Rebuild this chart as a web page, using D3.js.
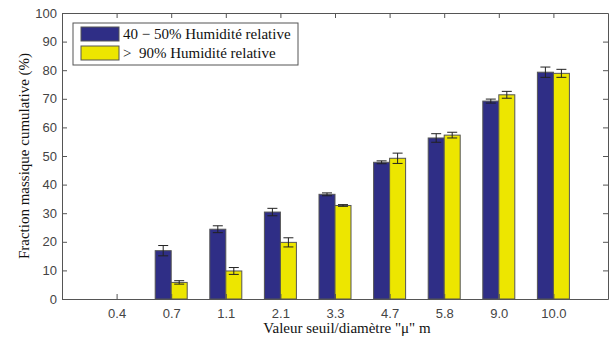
<!DOCTYPE html>
<html>
<head>
<meta charset="utf-8">
<script src="https://cdn.jsdelivr.net/npm/d3@7"></script>
<style>
  body { margin: 0; background: #fff; }
  .serif { font-family: "Liberation Serif", "Times New Roman", Times, serif; }
  .sans { font-family: "Liberation Sans", Arial, Helvetica, sans-serif; }
</style>
</head>
<body>
<div id="chart"></div>
<script>
const width = 610;
const height = 339;

const categories = ["0.4", "0.7", "1.1", "2.1", "3.3", "4.7", "5.8", "9.0", "10.0"];
const seriesNames = ["40 \u2212 50% Humidit\u00e9 relative", ">\u00a0 90% Humidit\u00e9 relative"];
const lowHumidity = [0, 16.9, 24.4, 30.4, 36.6, 47.8, 56.3, 69.2, 79.3];
const lowHumidityErr = [0, 1.8, 1.2, 1.3, 0.5, 0.5, 1.5, 0.7, 1.8];
const highHumidity = [0, 5.8, 9.8, 19.8, 32.7, 49.2, 57.3, 71.4, 78.9];
const highHumidityErr = [0, 0.6, 1.2, 1.6, 0.3, 1.8, 1.0, 1.2, 1.4];
const yTicks = d3.range(0, 101, 10);

const colors = ["#2f2e86", "#ede600"];
const margin = { top: 13, right: 2, bottom: 40, left: 62 };

const svg = d3
  .select("#chart")
  .append("svg")
  .attr("width", width)
  .attr("height", height);

const x = d3
  .scaleLinear()
  .domain([0, categories.length + 1])
  .range([margin.left, width - margin.right]);

const y = d3
  .scaleLinear()
  .domain([0, 100])
  .range([height - margin.bottom, margin.top]);

const barW = 16;
const series = [
  { values: lowHumidity, errs: lowHumidityErr, offset: -1 },
  { values: highHumidity, errs: highHumidityErr, offset: 0 },
];

// bars + error bars
series.forEach((s, si) => {
  const rows = categories
    .map((c, i) => ({ i, v: s.values[i], e: s.errs[i] }))
    .filter((d) => d.v > 0);

  svg
    .append("g")
    .selectAll("rect")
    .data(rows)
    .join("rect")
    .attr("x", (d) => x(d.i + 1) + s.offset * barW)
    .attr("y", (d) => y(d.v))
    .attr("width", barW)
    .attr("height", (d) => y(0) - y(d.v))
    .attr("fill", colors[si])
    .attr("stroke", "#555")
    .attr("stroke-width", 1);

  const cx = (d) => x(d.i + 1) + s.offset * barW + barW / 2;
  const err = svg
    .append("g")
    .attr("stroke", "#222")
    .attr("stroke-width", 1)
    .selectAll("g")
    .data(rows)
    .join("g");
  err
    .append("line")
    .attr("x1", cx)
    .attr("x2", cx)
    .attr("y1", (d) => y(d.v + d.e))
    .attr("y2", (d) => y(d.v - d.e));
  [1, -1].forEach((sign) => {
    err
      .append("line")
      .attr("x1", (d) => cx(d) - 5)
      .attr("x2", (d) => cx(d) + 5)
      .attr("y1", (d) => y(d.v + sign * d.e))
      .attr("y2", (d) => y(d.v + sign * d.e));
  });
});

// axes (inward ticks, closed box)
const xTickVals = categories.map((c, i) => i + 1);
const axisColor = "#555";

const xAxis = svg
  .append("g")
  .attr("transform", `translate(0,${y(0)})`)
  .call(
    d3.axisBottom(x)
      .tickValues(xTickVals)
      .tickFormat((d) => categories[d - 1])
      .tickSizeInner(-5)
      .tickSizeOuter(0)
      .tickPadding(10)
  );

const xTop = svg
  .append("g")
  .attr("transform", `translate(0,${margin.top})`)
  .call(d3.axisTop(x).tickValues(xTickVals).tickFormat("").tickSizeInner(-5).tickSizeOuter(0));

const yAxis = svg
  .append("g")
  .attr("transform", `translate(${margin.left},0)`)
  .call(d3.axisLeft(y).tickValues(yTicks).tickSizeInner(-5).tickSizeOuter(0).tickPadding(5));

const yRight = svg
  .append("g")
  .attr("transform", `translate(${width - margin.right},0)`)
  .call(d3.axisRight(y).tickValues(yTicks).tickFormat("").tickSizeInner(-5).tickSizeOuter(0));

[xAxis, xTop, yAxis, yRight].forEach((g) => {
  g.attr("font-family", null).attr("font-size", null);
  g.selectAll("path, line").attr("stroke", axisColor);
  g.selectAll("text")
    .attr("class", "sans")
    .attr("fill", "#444")
    .style("font-size", "13px");
});

// axis titles
svg
  .append("text")
  .attr("class", "serif")
  .attr("x", x(5) + 12)
  .attr("y", 333)
  .attr("text-anchor", "middle")
  .style("font-size", "15px")
  .attr("fill", "#111")
  .text("Valeur seuil/diam\u00e8tre \"\u03bc\" m");

svg
  .append("text")
  .attr("class", "serif")
  .attr("transform", `translate(29,${(margin.top + height - margin.bottom) / 2}) rotate(-90)`)
  .attr("text-anchor", "middle")
  .style("font-size", "15px")
  .attr("fill", "#111")
  .text("Fraction massique cumulative (%)");

// legend
const legend = svg.append("g").attr("transform", "translate(73,23)");
legend
  .append("rect")
  .attr("width", 225)
  .attr("height", 42)
  .attr("fill", "#fff")
  .attr("stroke", "#555");

seriesNames.forEach((name, i) => {
  legend
    .append("rect")
    .attr("x", 8)
    .attr("y", 4 + i * 19)
    .attr("width", 38)
    .attr("height", 14)
    .attr("fill", colors[i])
    .attr("stroke", "#555");
  legend
    .append("text")
    .attr("class", "serif")
    .attr("x", 50)
    .attr("y", 16 + i * 19)
    .style("font-size", "15px")
    .attr("fill", "#111")
    .text(name);
});
</script>
</body>
</html>
